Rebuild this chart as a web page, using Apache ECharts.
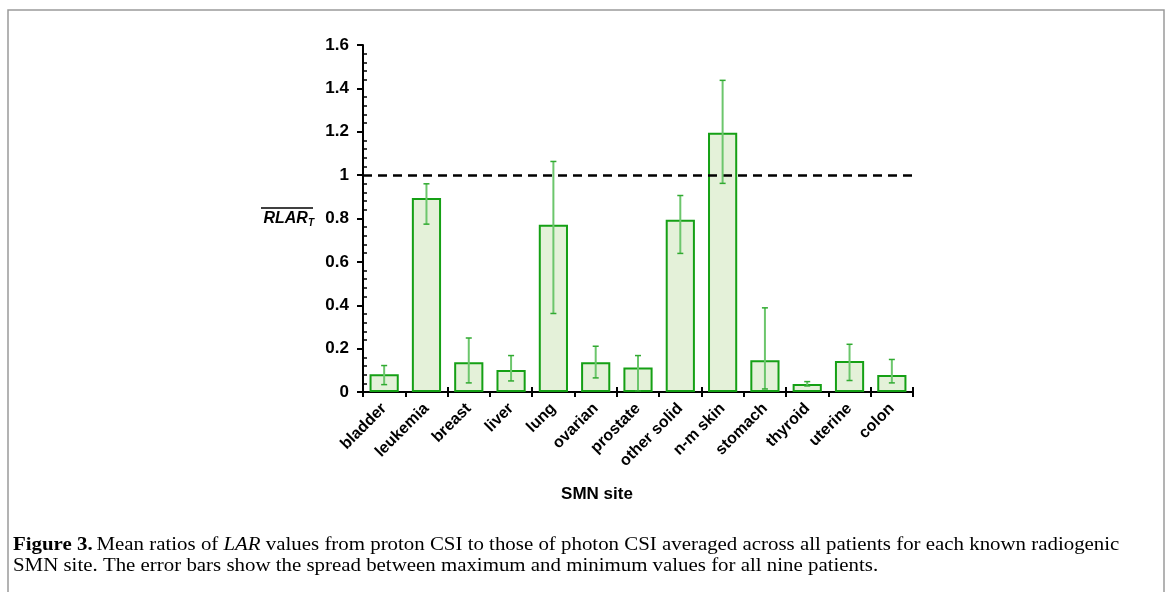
<!DOCTYPE html>
<html><head><meta charset="utf-8">
<script src="https://cdn.jsdelivr.net/npm/echarts@6/dist/echarts.min.js"></script>
<style>html,body{margin:0;padding:0;background:#fff}#c{width:1171px;height:592px}</style>
</head><body><div id="c"></div>
<script>
const categories = ['bladder','leukemia','breast','liver','lung','ovarian','prostate','other solid','n-m skin','stomach','thyroid','uterine','colon'];
const meanValues = [0.082,0.895,0.137,0.102,0.771,0.137,0.113,0.794,1.195,0.146,0.037,0.143,0.078];
const maxValues  = [0.122,0.960,0.249,0.168,1.063,0.211,0.168,0.906,1.437,0.388,0.048,0.220,0.150];
const minValues  = [0.034,0.774,0.042,0.051,0.362,0.065,0.005,0.639,0.962,0.014,0.028,0.053,0.042];
const yTicks = [0,0.2,0.4,0.6,0.8,1,1.2,1.4,1.6];
const referenceLevel = 1;

const chart = echarts.init(document.getElementById('c'), null, {renderer:'canvas'});
const errData = categories.map((c,i)=>[i, minValues[i], maxValues[i]]);

chart.setOption({
  animation:false,
  grid:{left:363, top:45, right:258, bottom:200, containLabel:false},
  xAxis:[{
    type:'category', data:categories, position:'bottom',
    axisLine:{lineStyle:{color:'#000', width:2}},
    axisTick:{show:true, length:5, lineStyle:{color:'#000', width:2}},
    axisLabel:{rotate:45, margin:14, interval:0, fontFamily:'Liberation Sans', fontWeight:'bold', fontSize:16, color:'#000'}
  },{
    type:'category', data:categories, position:'bottom',
    axisLine:{show:false},
    axisTick:{show:true, inside:true, length:5, lineStyle:{color:'#000', width:2}},
    axisLabel:{show:false}
  }],
  yAxis:[{
    type:'value', min:yTicks[0], max:yTicks[yTicks.length-1], interval:0.2,
    axisLine:{show:true, lineStyle:{color:'#000', width:2}},
    axisTick:{show:true, length:6, lineStyle:{color:'#000', width:2}},
    axisLabel:{margin:14, formatter:v=>String(Math.round(v*10)/10), fontFamily:'Liberation Sans', fontWeight:'bold', fontSize:17, color:'#000'},
    splitLine:{show:false}
  },{
    type:'value', position:'left', min:yTicks[0], max:yTicks[yTicks.length-1], interval:0.2,
    axisLine:{show:false},
    axisTick:{show:false, inside:true, length:4},
    minorTick:{show:true, splitNumber:5, length:4, lineStyle:{color:'#000', width:1.5}},
    axisLabel:{show:false},
    splitLine:{show:false}
  }],
  series:[{
    type:'bar', data:meanValues, barCategoryGap:'31%',
    itemStyle:{color:'#e4f1d9', borderColor:'#15a015', borderWidth:2},
    markLine:{
      silent:true, symbol:'none', label:{show:false},
      lineStyle:{color:'#000', width:2.5, type:[9,6]},
      data:[{yAxis:referenceLevel}]
    }
  },{
    type:'custom', data:errData,
    renderItem:function(params, api){
      const x = api.value(0);
      const lo = api.coord([x, api.value(1)]);
      const hi = api.coord([x, api.value(2)]);
      const w = 3;
      return {type:'group', children:[
        {type:'line', shape:{x1:lo[0], y1:lo[1], x2:hi[0], y2:hi[1]}, style:{stroke:'#6cc66c', lineWidth:2}},
        {type:'line', shape:{x1:lo[0]-w, y1:lo[1], x2:lo[0]+w, y2:lo[1]}, style:{stroke:'#30aa30', lineWidth:1.5}},
        {type:'line', shape:{x1:hi[0]-w, y1:hi[1], x2:hi[0]+w, y2:hi[1]}, style:{stroke:'#30aa30', lineWidth:1.5}}
      ]};
    },
    z:5
  }],
  graphic:[
    {type:'rect', shape:{x:8, y:10, width:1156, height:600}, style:{fill:'none', stroke:'#9a9a9a', lineWidth:1.5}, silent:true},
    {type:'text', x:597, y:494, style:{text:'SMN site', font:'bold 17px "Liberation Sans"', fill:'#000', textAlign:'center', textVerticalAlign:'middle'}},
    {type:'text', x:314, y:219, style:{
      text:'{a|RLAR}{b|T}', textAlign:'right', textVerticalAlign:'middle',
      rich:{a:{fontFamily:'Liberation Sans', fontStyle:'italic', fontWeight:'bold', fontSize:16, fill:'#000'},
            b:{fontFamily:'Liberation Sans', fontStyle:'italic', fontWeight:'bold', fontSize:10, fill:'#000', padding:[8,0,0,0]}}
    }},
    {type:'line', shape:{x1:261, y1:208, x2:313, y2:208}, style:{stroke:'#000', lineWidth:1.5}},
    {type:'text', x:13, y:545, scaleX:1.16, style:{
      text:'{b|Figure 3.} {n|Mean ratios of }{i|LAR}{n| values from proton CSI to those of photon CSI averaged across all patients for each known radiogenic}',
      textVerticalAlign:'middle',
      rich:{b:{fontFamily:'Liberation Serif', fontWeight:'bold', fontSize:18, fill:'#000'},
            n:{fontFamily:'Liberation Serif', fontSize:18, fill:'#000'},
            i:{fontFamily:'Liberation Serif', fontStyle:'italic', fontSize:18, fill:'#000'}}
    }},
    {type:'text', x:13, y:566, scaleX:1.16, style:{
      text:'SMN site. The error bars show the spread between maximum and minimum values for all nine patients.',
      textVerticalAlign:'middle', font:'18px "Liberation Serif"', fill:'#000'
    }}
  ]
});
</script></body></html>
